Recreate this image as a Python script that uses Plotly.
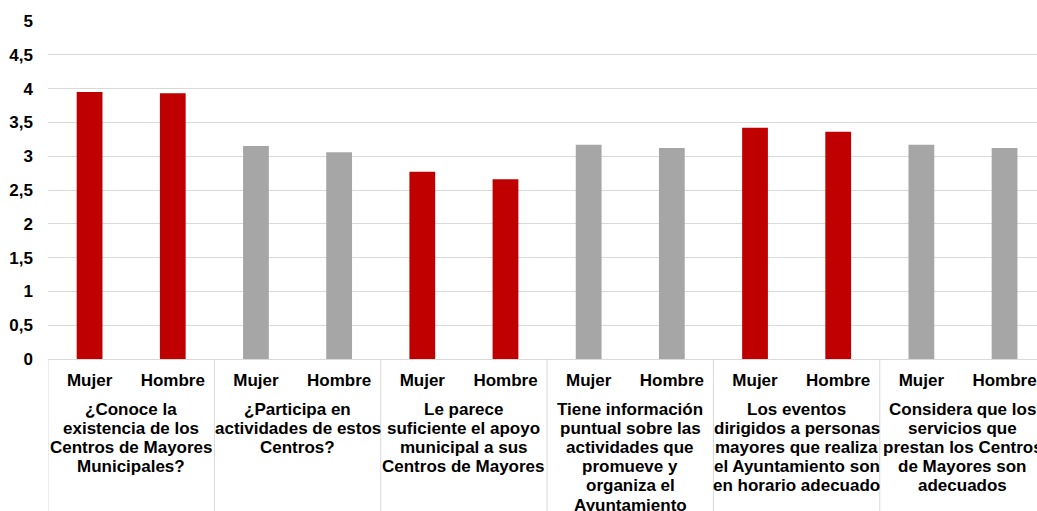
import plotly.graph_objects as go

questions = [
    ["¿Conoce la", "existencia de los", "Centros de Mayores", "Municipales?"],
    ["¿Participa en", "actividades de estos", "Centros?"],
    ["Le parece", "suficiente el apoyo", "municipal a sus", "Centros de Mayores"],
    ["Tiene información", "puntual sobre las", "actividades que", "promueve y", "organiza el", "Ayuntamiento"],
    ["Los eventos", "dirigidos a personas", "mayores que realiza", "el Ayuntamiento son", "en horario adecuado"],
    ["Considera que los", "servicios que", "prestan los Centros", "de Mayores son", "adecuados"],
]
sexes = ["Mujer", "Hombre"]
values = [3.95, 3.93, 3.15, 3.06, 2.77, 2.66, 3.17, 3.12, 3.42, 3.36, 3.17, 3.12]
group_colors = ["#C00000", "#A6A6A6", "#C00000", "#A6A6A6", "#C00000", "#A6A6A6"]
y_ticks = [0, 0.5, 1, 1.5, 2, 2.5, 3, 3.5, 4, 4.5, 5]

n_sub = len(sexes)
x_pos = list(range(len(questions) * n_sub))
x_text = [s for _ in questions for s in sexes]
colors = [c for c in group_colors for _ in sexes]

FONT = "Liberation Sans, Arial, sans-serif"
FS = 17

fig = go.Figure(go.Bar(
    x=x_pos,
    y=values,
    marker=dict(color=colors, line=dict(width=0)),
    width=0.31,
    hoverinfo="y",
))

# group labels (one annotation per line) and dividers
annotations = []
shapes = []
for g, lines in enumerate(questions):
    center = g * n_sub + (n_sub - 1) / 2
    for i, line in enumerate(lines):
        annotations.append(dict(
            x=center, xref="x", y=0, yref="paper",
            text=line, showarrow=False,
            xanchor="center", yanchor="middle",
            yshift=-(50 + i * 19.2),
            font=dict(family=FONT, size=FS, color="#000000", weight="bold"),
        ))
    shapes.append(dict(
        type="line", xref="x", yref="paper",
        x0=g * n_sub - 0.5, x1=g * n_sub - 0.5, y0=0, y1=-0.5,
        line=dict(color="#D9D9D9", width=1),
    ))
shapes.append(dict(
    type="line", xref="x", yref="paper",
    x0=len(x_pos) - 0.5, x1=len(x_pos) - 0.5, y0=0, y1=-0.5,
    line=dict(color="#D9D9D9", width=1),
))

fig.update_layout(
    width=1037, height=511,
    margin=dict(l=48, r=0, t=21, b=152),
    paper_bgcolor="white", plot_bgcolor="white",
    separators=", ",
    showlegend=False,
    font=dict(family=FONT, size=FS, color="#000000"),
    annotations=annotations,
    shapes=shapes,
    xaxis=dict(
        range=[-0.5, 11.39],
        tickmode="array", tickvals=x_pos, ticktext=x_text,
        showline=True, linecolor="#D9D9D9", linewidth=1,
        showgrid=False, zeroline=False,
        tickfont=dict(family=FONT, size=FS, color="#000000", weight="bold"),
        ticks="", automargin=False,
        ticklabelstandoff=6,
    ),
    yaxis=dict(
        range=[0, 5],
        tickmode="array", tickvals=y_ticks,
        showgrid=True, gridcolor="#D9D9D9", gridwidth=1,
        zeroline=False, showline=False,
        tickfont=dict(family=FONT, size=FS, color="#000000", weight="bold"),
        ticks="", automargin=False,
        ticklabelstandoff=14,
    ),
)

fig.write_html(
    "out.html",
    config={"displayModeBar": False},
    post_script="document.body.style.margin='0';document.body.style.overflow='hidden';",
)
